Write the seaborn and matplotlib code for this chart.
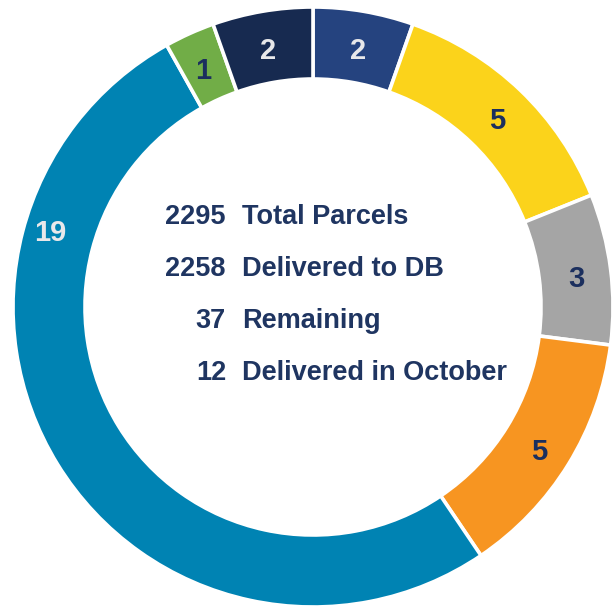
import matplotlib
matplotlib.use("Agg")
import matplotlib.pyplot as plt
import numpy as np
import seaborn as sns

# segments, clockwise from 12 o'clock
counts = [2, 5, 3, 5, 19, 1, 2]
colors = ["#25437f", "#fbd31b", "#a5a5a5", "#f79521", "#0083b3", "#71ad47", "#172a50"]
label_colors = ["#e8e8ea", "#1b2f5e", "#1b2f5e", "#1b2f5e", "#e8e8ea", "#1b2f5e", "#e8e8ea"]

summary_numbers = ["2295", "2258", "37", "12"]
summary_labels = ["Total Parcels", "Delivered to DB", "Remaining", "Delivered in October"]

sns.set_theme(style="white")
plt.rcParams["font.family"] = ["Liberation Sans", "DejaVu Sans"]

fig = plt.figure(figsize=(6.12, 6.10), dpi=100)
ax = fig.add_axes([0, 0, 1, 1])

ring = 0.24
wedges, _ = ax.pie(
    counts,
    colors=colors,
    startangle=90,
    counterclock=False,
    radius=1.0,
    wedgeprops=dict(width=ring, edgecolor="white", linewidth=2.6),
)

# value labels at ring middle; the big segment's label sits up on the left side
r_lab = 1.0 - ring / 2 + 0.005
for i, (w, n) in enumerate(zip(wedges, counts)):
    ang = (w.theta1 + w.theta2) / 2
    r = r_lab
    if n == max(counts):
        ang, r = 163, r_lab + 0.03
    x, y = r * np.cos(np.radians(ang)), r * np.sin(np.radians(ang))
    ax.text(x, y - 0.02, str(n), ha="center", va="center", fontsize=21,
            fontweight="bold", color=label_colors[i])

# summary block in the hole (no narrow font available, so a bit smaller)
navy = "#1f3561"
ys = [0.313, 0.140, -0.033, -0.207]
for y, num, lab in zip(ys, summary_numbers, summary_labels):
    ax.text(-0.29, y - 0.012, num, ha="right", va="center", fontsize=19.5,
            fontweight="bold", color=navy)
    ax.text(-0.235, y - 0.012, lab, ha="left", va="center", fontsize=19.5,
            fontweight="bold", color=navy)

ax.set_xlim(-313 / 300, (612 - 313) / 300)
ax.set_ylim(-(610 - 307) / 300, 307 / 300)
ax.set_aspect("auto")
ax.axis("off")

fig.savefig("out.png", dpi=100, facecolor="white")
plt.close(fig)
